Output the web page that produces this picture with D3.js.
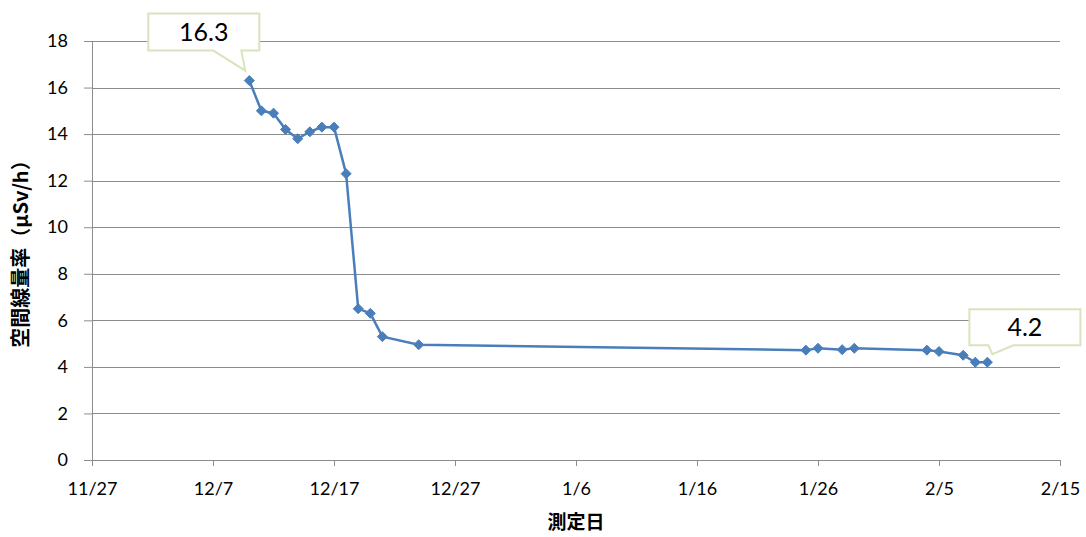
<!DOCTYPE html>
<html>
<head>
<meta charset="utf-8">
<script src="https://cdn.jsdelivr.net/npm/d3@7"></script>
<style>
  html, body { margin: 0; padding: 0; background: #fff; }
  svg text { font-family: Lato, "Noto Sans", sans-serif; }
</style>
</head>
<body>
<div id="chart"></div>
<script>
// 測定日と空間線量率
const dates = [
  "2011-12-10", "2011-12-11", "2011-12-12", "2011-12-13", "2011-12-14",
  "2011-12-15", "2011-12-16", "2011-12-17", "2011-12-18", "2011-12-19",
  "2011-12-20", "2011-12-21", "2011-12-24", "2012-01-25", "2012-01-26",
  "2012-01-28", "2012-01-29", "2012-02-04", "2012-02-05", "2012-02-07",
  "2012-02-08", "2012-02-09"
];
const values = [
  16.3, 15.0, 14.9, 14.2, 13.8,
  14.1, 14.3, 14.3, 12.3, 6.5,
  6.3, 5.3, 4.95, 4.72, 4.8,
  4.74, 4.8, 4.72, 4.66, 4.5,
  4.2, 4.2
];
const yTicks = [0, 2, 4, 6, 8, 10, 12, 14, 16, 18];
const xTickDates = [
  "2011-11-27", "2011-12-07", "2011-12-17", "2011-12-27", "2012-01-06",
  "2012-01-16", "2012-01-26", "2012-02-05", "2012-02-15"
];
// 吹き出し（最初と最後の値）
const callouts = [
  { index: 0, label: "16.3" },
  { index: 21, label: "4.2" }
];

const W = 1086, H = 537;
const margin = { top: 41, right: 26, bottom: 77, left: 92 };
const width = W - margin.left - margin.right;
const height = H - margin.top - margin.bottom;

const parse = d3.utcParse("%Y-%m-%d");
const data = dates.map((d, i) => ({ date: parse(d), value: values[i] }));
const tickDates = xTickDates.map(parse);

const svg = d3.select("#chart")
  .append("svg")
  .attr("width", W)
  .attr("height", H);

const g = svg.append("g")
  .attr("transform", `translate(${margin.left},${margin.top})`);

const x = d3.scaleUtc()
  .domain([tickDates[0], tickDates[tickDates.length - 1]])
  .range([0, width]);

const y = d3.scaleLinear()
  .domain([0, 18])
  .range([height, 0]);

// グリッド線
g.append("g")
  .selectAll("line")
  .data(yTicks.filter(d => d > 0))
  .enter()
  .append("line")
  .attr("x1", 0)
  .attr("x2", width)
  .attr("y1", d => Math.round(y(d)) + 0.5)
  .attr("y2", d => Math.round(y(d)) + 0.5)
  .attr("stroke", "#8c8c8c")
  .attr("stroke-width", 1);

// y軸
const yAxis = g.append("g")
  .call(d3.axisLeft(y).tickValues(yTicks).tickSize(8).tickPadding(16).tickFormat(d3.format("d")));
yAxis.select(".domain").attr("stroke", "#8c8c8c");
yAxis.selectAll(".tick line").attr("stroke", "#8c8c8c");
yAxis.selectAll("text")
  .style("font-size", "18px")
  .attr("fill", "#000");

// x軸
const xAxis = g.append("g")
  .attr("transform", `translate(0,${height})`)
  .call(d3.axisBottom(x)
    .tickValues(tickDates)
    .tickSize(6)
    .tickPadding(16)
    .tickFormat(d3.utcFormat("%-m/%-d")));
xAxis.select(".domain").attr("stroke", "#8c8c8c");
xAxis.selectAll(".tick line").attr("stroke", "#8c8c8c");
xAxis.selectAll("text")
  .style("font-size", "18px")
  .attr("fill", "#000");

// 折れ線
const line = d3.line()
  .x(d => x(d.date))
  .y(d => y(d.value));

g.append("path")
  .datum(data)
  .attr("d", line)
  .attr("fill", "none")
  .attr("stroke", "#4a7ebb")
  .attr("stroke-width", 2.5)
  .attr("stroke-linejoin", "round");

// マーカー（ひし形）
g.selectAll(".marker")
  .data(data)
  .enter()
  .append("path")
  .attr("class", "marker")
  .attr("transform", d => `translate(${x(d.date)},${y(d.value)})`)
  .attr("d", "M0,-5L5,0L0,5L-5,0Z")
  .attr("fill", "#4a7ebb")
  .attr("stroke", "#4a7ebb")
  .attr("stroke-width", 1);

// 吹き出し
function drawCallout(c, box, tip, base) {
  const d = data[c.index];
  const px = x(d.date), py = y(d.value);
  const bx = px + box.dx, by = py + box.dy;
  const path = [
    [bx, by], [bx + box.w, by], [bx + box.w, by + box.h],
    [px + base[1], by + box.h], [px + tip[0], py + tip[1]], [px + base[0], by + box.h],
    [bx, by + box.h]
  ];
  g.append("path")
    .attr("d", "M" + path.map(p => p.join(",")).join("L") + "Z")
    .attr("fill", "#fff")
    .attr("stroke", "#d7e4bd")
    .attr("stroke-width", 2);
  g.append("text")
    .attr("x", bx + box.w / 2)
    .attr("y", by + box.h / 2)
    .attr("dy", "0.36em")
    .attr("text-anchor", "middle")
    .style("font-size", "25px")
    .attr("fill", "#000")
    .text(c.label);
}
drawCallout(callouts[0], { dx: -101, dy: -67, w: 111, h: 37 }, [-4, -10], [-36, -8]);
drawCallout(callouts[1], { dx: -18, dy: -53, w: 111, h: 36 }, [5, -8], [1, 26]);

// 軸タイトル
svg.append("text")
  .attr("x", margin.left + width / 2)
  .attr("y", 529)
  .attr("text-anchor", "middle")
  .style("font-family", "'Noto Sans CJK JP', sans-serif")
  .style("font-weight", "bold")
  .style("font-size", "19px")
  .text("測定日");

svg.append("text")
  .attr("transform", `translate(28,249) rotate(-90)`)
  .attr("text-anchor", "middle")
  .style("font-family", "'Noto Sans CJK JP', sans-serif")
  .style("font-weight", "bold")
  .style("font-size", "20px")
  .text("空間線量率（µSv/h）");
</script>
</body>
</html>
